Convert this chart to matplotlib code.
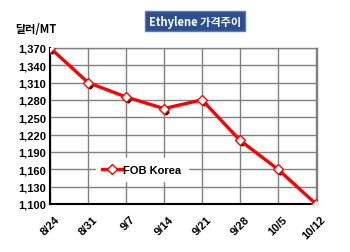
"""Ethylene price trend chart"""

import matplotlib
matplotlib.use('Agg')
import matplotlib.pyplot as plt
import matplotlib.transforms as mtransforms

plt.rcParams['font.family'] = ['Liberation Sans', 'Noto Sans CJK KR', 'DejaVu Sans']

# Data
dates = ['8/24', '8/31', '9/7', '9/14', '9/21', '9/28', '10/5', '10/12']
fob_korea = [1370, 1310, 1285, 1265, 1280, 1210, 1160, 1100]
y_ticks = [1100, 1130, 1160, 1190, 1220, 1250, 1280, 1310, 1340, 1370]

fig = plt.figure(figsize=(3.5, 2.53), dpi=100)
ax = fig.add_axes([0.143, 0.19, 0.763, 0.617])

x = list(range(len(dates)))

# Black shadow markers, slightly offset
shadow = mtransforms.offset_copy(ax.transData, fig=fig, x=2, y=-3, units='dots')
ax.plot(x, fob_korea, linestyle='none', marker='D', markersize=2.5,
        color='black', transform=shadow, zorder=3)

ax.plot(x, fob_korea, color='#ff0000', linewidth=2.4, marker='D', markersize=5,
        markerfacecolor='white', markeredgecolor='#ff0000', markeredgewidth=1,
        label='FOB Korea', zorder=4)

ax.set_xlim(0, 7.03)
ax.set_ylim(1100, 1370)
ax.set_yticks(y_ticks)
ax.set_yticklabels([f'{v:,}' for v in y_ticks], fontsize=8, fontweight='bold')
ax.set_xticks(x)
ax.set_xticklabels(dates, fontsize=8, fontweight='bold', rotation=45,
                   ha='right', rotation_mode='anchor')
ax.tick_params(length=0, pad=3)
ax.tick_params(axis='x', pad=7)
# nudge x labels a little to the right, like the original
nudge = mtransforms.ScaledTranslation(4 / 100, 0, fig.dpi_scale_trans)
for lbl in ax.get_xticklabels():
    lbl.set_transform(lbl.get_transform() + nudge)

ax.grid(True, color='#808080', linewidth=1)
ax.set_axisbelow(True)
for side in ['top', 'right']:
    ax.spines[side].set_color('#808080')
    ax.spines[side].set_linewidth(1)
for side in ['left', 'bottom']:
    ax.spines[side].set_color('black')
    ax.spines[side].set_linewidth(1.5)

leg = ax.legend(loc='upper left', bbox_to_anchor=(0.15, 0.33), frameon=True,
                fancybox=False, framealpha=1, edgecolor='white', fontsize=8,
                handlelength=1.8, handletextpad=0.1, borderpad=0.6)
for t in leg.get_texts():
    t.set_fontweight('bold')

fig.text(0.557, 0.913, 'Ethylene 가격주이', color='white', fontsize=8,
         fontweight='bold', ha='center', va='center',
         family=['Noto Sans CJK KR', 'DejaVu Sans'],
         bbox=dict(boxstyle='square,pad=0.35', facecolor='#2e4f8f', edgecolor='#5a7ab8'))
fig.text(0.043, 0.885, '달러/MT', fontsize=8, fontweight='bold', ha='left', va='center',
         family=['Noto Sans CJK KR', 'DejaVu Sans'])

fig.savefig('out.png', dpi=100)
